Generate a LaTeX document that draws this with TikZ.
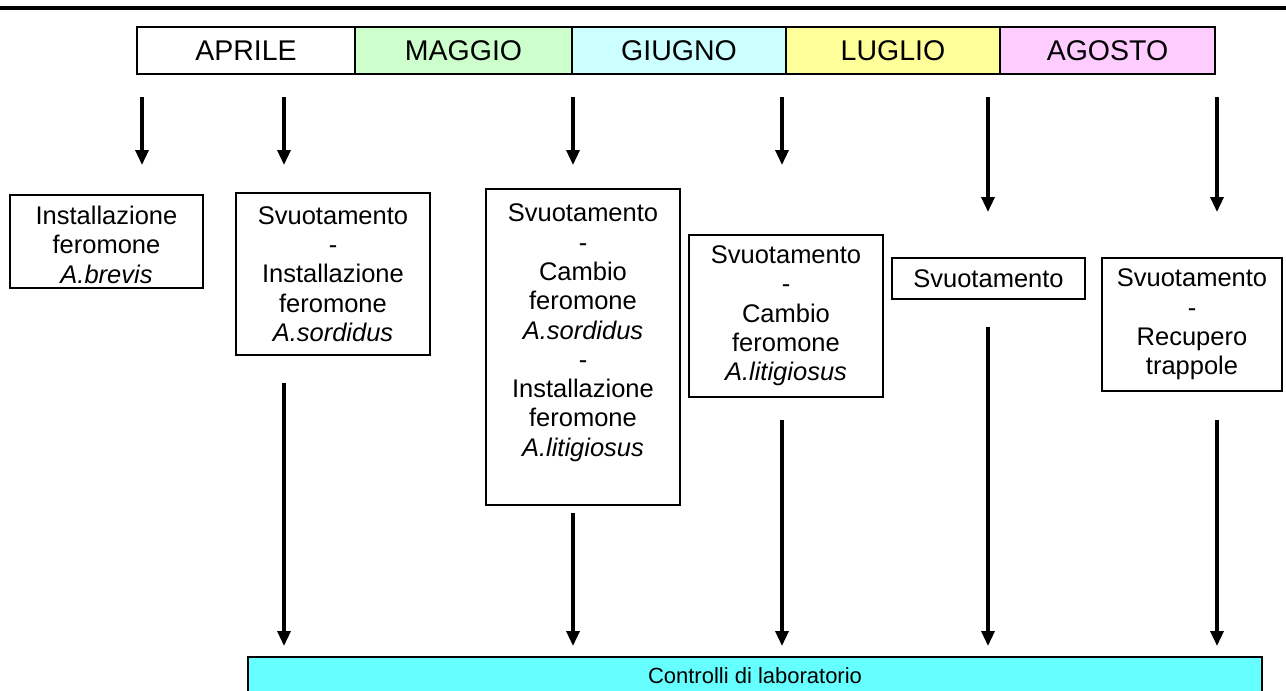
\documentclass[tikz,border=0pt]{standalone}
\usepackage{fontspec}
\setmainfont{Liberation Sans}
\usetikzlibrary{arrows.meta}
\definecolor{cmag}{HTML}{CCFFCC}
\definecolor{cgiu}{HTML}{CCFFFF}
\definecolor{clug}{HTML}{FFFF99}
\definecolor{cago}{HTML}{FFCCFF}
\definecolor{clab}{HTML}{66FFFF}
\begin{document}
\begin{tikzpicture}[x=1pt,y=-1pt,
  month/.style={draw, line width=2pt, minimum width=216pt, minimum height=47pt, inner sep=0pt,
                font=\fontsize{28.5}{32}\selectfont},
  stepbox/.style={draw, line width=1.7pt, align=center, inner sep=0pt,
                font=\fontsize{25.5}{29.3}\selectfont},
  arr/.style={line width=3.3pt, -{Triangle[length=15pt,width=13pt]}}]
\useasboundingbox (0,0) rectangle (1286,691);
% top rule
\coordinate (tl) at (0,8);
\coordinate (tr) at (1286,8);
\draw[line width=3.5pt] (tl) -- (tr);
% month bar
\node[month, fill=white, minimum width=218pt] (apr) at (246,50.5) {APRILE};
\node[month, fill=cmag, minimum width=217pt] (mag) at (463.5,50.5) {MAGGIO};
\node[month, fill=cgiu, minimum width=214pt] (giu) at (679,50.5) {GIUGNO};
\node[month, fill=clug, minimum width=214pt] (lug) at (893,50.5) {LUGLIO};
\node[month, fill=cago, minimum width=215pt] (ago) at (1107.5,50.5) {AGOSTO};
% step boxes
\node[stepbox, minimum width=193pt, minimum height=93pt] (b1) at (106.5,241.5)
  {\rule{0pt}{25pt}Installazione\\feromone\\\textit{A.brevis}};
\node[stepbox, minimum width=194pt, minimum height=162pt] (b2) at (333,274)
  {Svuotamento\\-\\Installazione\\feromone\\\textit{A.sordidus}};
\node[stepbox, minimum width=194pt, minimum height=316pt] (b3) at (583,347)
  {\parbox[c][316pt][t]{190pt}{\centering\vspace*{15pt}Svuotamento\\-\\Cambio\\feromone\\\textit{A.sordidus}\\-\\Installazione\\feromone\\\textit{A.litigiosus}}};
\node[stepbox, minimum width=194pt, minimum height=162pt] (b4) at (786,316)
  {Svuotamento\\-\\Cambio\\feromone\\\textit{A.litigiosus}};
\node[stepbox, minimum width=193pt, minimum height=41pt] (b5) at (988.5,278.5)
  {Svuotamento};
\node[stepbox, minimum width=180pt, minimum height=133pt] (b6) at (1192,324.5)
  {Svuotamento\\-\\Recupero\\trappole};
% laboratory bar
\node[draw, line width=2pt, fill=clab, minimum width=1014pt, minimum height=38pt, inner sep=0pt,
      font=\fontsize{22}{25}\selectfont] (lab) at (755,676) {Controlli di laboratorio};
% upper arrows
\coordinate (u1s) at (142,97);  \coordinate (u1e) at (142,165);
\coordinate (u2s) at (284,97);  \coordinate (u2e) at (284,165);
\coordinate (u3s) at (573,97);  \coordinate (u3e) at (573,165);
\coordinate (u4s) at (782,97);  \coordinate (u4e) at (782,165);
\coordinate (u5s) at (988,97);  \coordinate (u5e) at (988,212);
\coordinate (u6s) at (1217,97); \coordinate (u6e) at (1217,212);
\foreach \i in {1,...,6} \draw[arr] (u\i s) -- (u\i e);
% lower arrows
\coordinate (l1s) at (284,383);  \coordinate (l1e) at (284,646);
\coordinate (l2s) at (573,513);  \coordinate (l2e) at (573,646);
\coordinate (l3s) at (782,420);  \coordinate (l3e) at (782,646);
\coordinate (l4s) at (988,327);  \coordinate (l4e) at (988,646);
\coordinate (l5s) at (1217,420); \coordinate (l5e) at (1217,646);
\foreach \i in {1,...,5} \draw[arr] (l\i s) -- (l\i e);
\end{tikzpicture}
\end{document}
